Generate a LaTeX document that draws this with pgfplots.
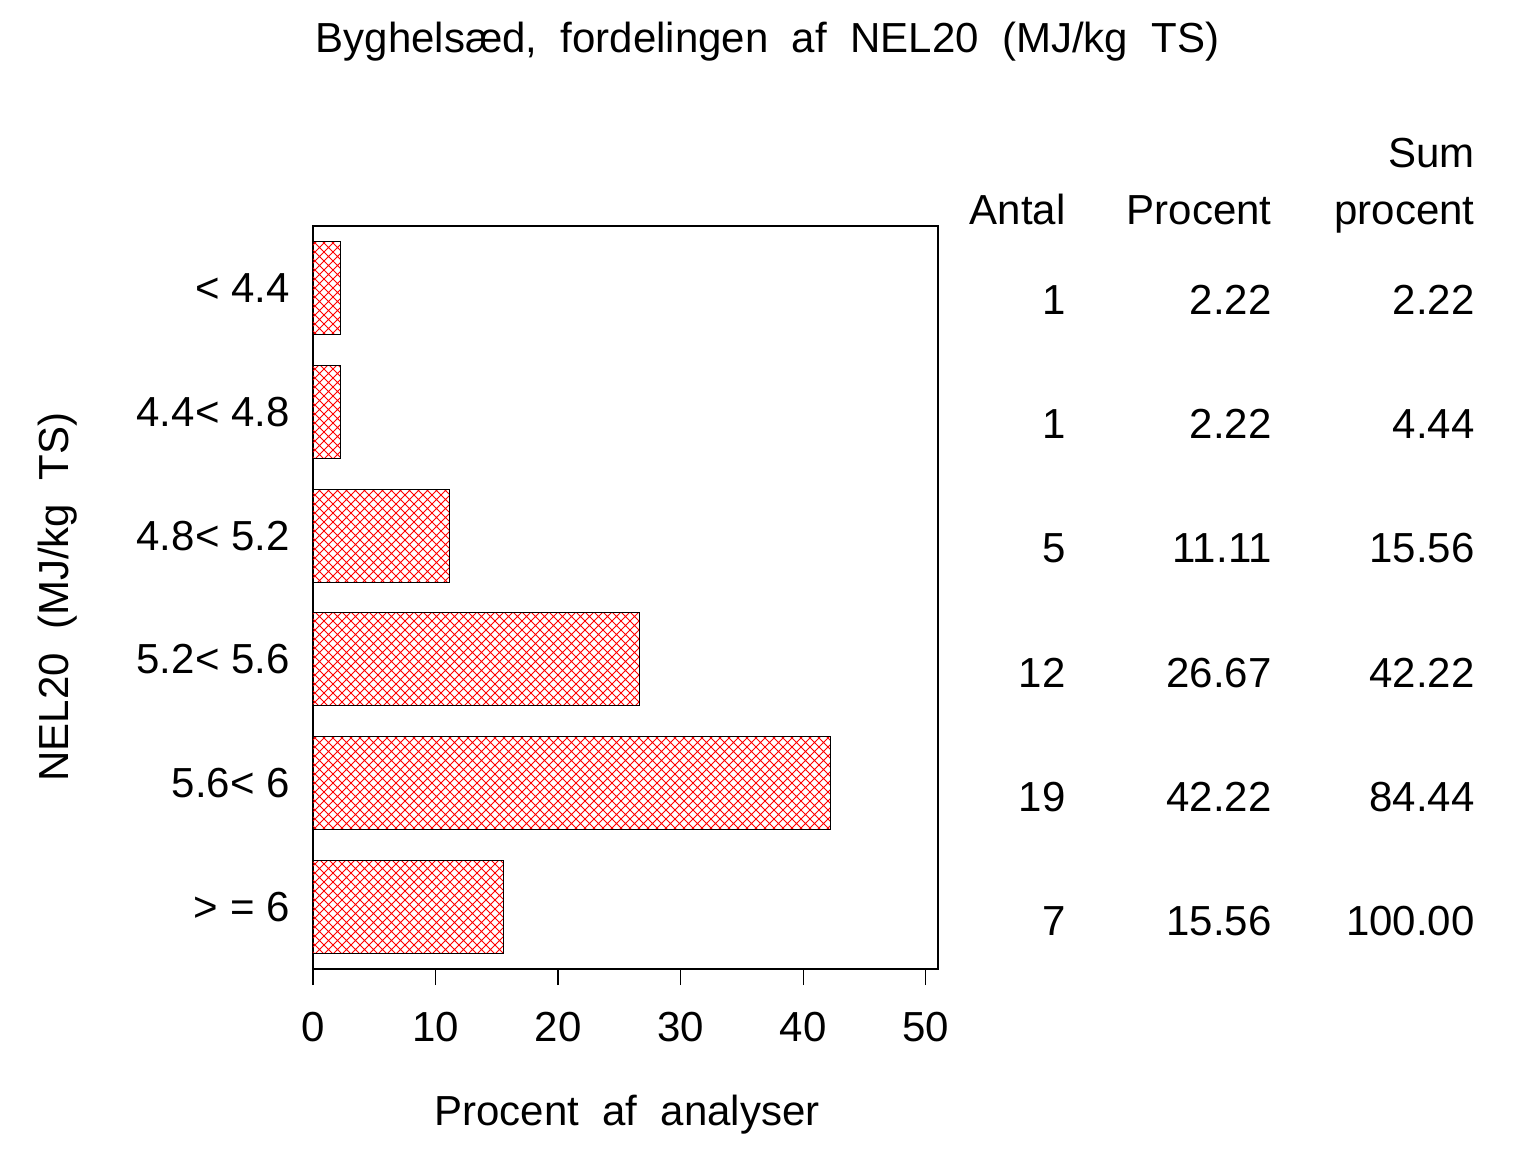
\documentclass[border=0pt]{standalone}
\usepackage{fontspec}
\setmainfont{Liberation Sans}[WordSpace=2]
\newfontfamily\tickfont{Liberation Sans}
\usepackage{pgfplots}
\pgfplotsset{compat=1.18}
\usetikzlibrary{patterns}
\pgfdeclarepatternformonly{mycross}{\pgfqpoint{-0.5pt}{-0.5pt}}{\pgfqpoint{5pt}{5pt}}{\pgfqpoint{4.5pt}{4.5pt}}{%
  \pgfsetlinewidth{0.45pt}%
  \pgfpathmoveto{\pgfqpoint{0pt}{0pt}}\pgfpathlineto{\pgfqpoint{4.5pt}{4.5pt}}%
  \pgfpathmoveto{\pgfqpoint{0pt}{4.5pt}}\pgfpathlineto{\pgfqpoint{4.5pt}{0pt}}%
  \pgfusepath{stroke}}
\pgfplotstableread{
val pos
15.56 1
42.22 2
26.67 3
11.11 4
2.22 5
2.22 6
}\bars
\begin{document}
\begin{tikzpicture}[font=\fontsize{21}{25}\selectfont]
\path[use as bounding box] (-156.5pt,-91.5pt) rectangle (611.5pt,484.5pt);
\begin{axis}[
  at={(0pt,0pt)}, anchor=south west,
  scale only axis, width=312.5pt, height=371.5pt,
  xmin=0, xmax=51, ymin=0.5, ymax=6.5,
  xtick={0,10,...,50}, ytick={1,...,6},
  yticklabels={{> = 6},{5.6< 6},{5.2< 5.6},{4.8< 5.2},{4.4< 4.8},{< 4.4}},
  xtick pos=left, xtick align=outside, major tick length=8pt,
  ytick style={draw=none},
  x tick style={black, line width=0.6pt},
  axis line style={black, line width=0.6pt},
  /pgf/number format/assume math mode=true,
  tick label style={font=\fontsize{21}{25}\tickfont},
  xticklabel style={inner sep=0pt, yshift=-13.5pt},
  yticklabel style={inner sep=0pt, anchor=east, xshift=-3.5pt},
  xbar, bar width=0.75,
]
\addplot[xbar, draw=black, line width=0.5pt, pattern=mycross, pattern color=red] table[x=val, y=pos] {\bars};
\end{axis}
% title and axis labels
\node[anchor=base] at (227.25pt,458pt) {Byghelsæd, fordelingen af NEL20 (MJ/kg TS)};
\node[anchor=base] at (157pt,-78pt) {Procent af analyser};
\node[anchor=base, rotate=90] at (-122pt,186pt) {NEL20 (MJ/kg TS)};
% table headers
\node[anchor=base east, inner sep=0pt] at (581pt,400.5pt) {Sum};
\node[anchor=base east, inner sep=0pt] at (376.5pt,372pt) {Antal};
\node[anchor=base east, inner sep=0pt] at (479.5pt,372pt) {Procent};
\node[anchor=base east, inner sep=0pt] at (581pt,372pt) {procent};
% table rows
\foreach \n/\p/\s [count=\i from 0] in {1/2.22/2.22, 1/2.22/4.44, 5/11.11/15.56, 12/26.67/42.22, 19/42.22/84.44, 7/15.56/100.00}{
  \pgfmathsetmacro{\yy}{327-62*\i}
  \node[anchor=base east, inner sep=0pt] at (376.5pt,\yy pt) {\n};
  \node[anchor=base east, inner sep=0pt] at (479.5pt,\yy pt) {\p};
  \node[anchor=base east, inner sep=0pt] at (581pt,\yy pt) {\s};
}
\end{tikzpicture}
\end{document}
